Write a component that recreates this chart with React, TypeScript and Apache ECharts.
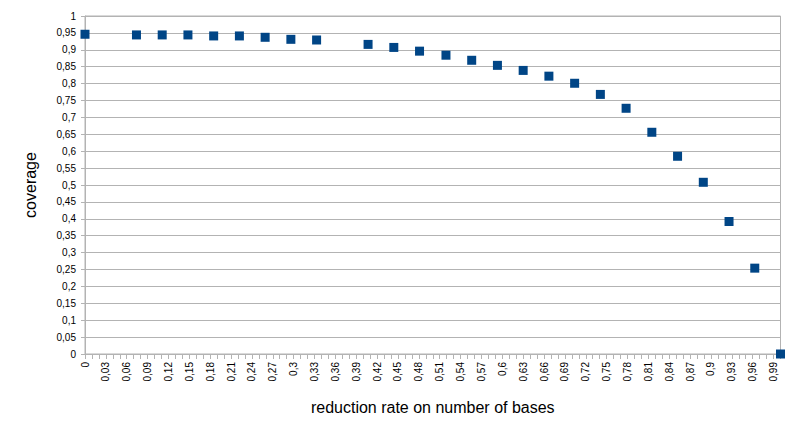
import React, { useEffect, useRef } from "react";
import * as echarts from "echarts";

const reductionRate: number[] = [
  0, 0.074, 0.111, 0.148, 0.185, 0.222, 0.259, 0.296, 0.333, 0.407, 0.444, 0.481, 0.519,
  0.556, 0.593, 0.63, 0.667, 0.704, 0.741, 0.778, 0.815, 0.852, 0.889, 0.926, 0.963, 1.0,
];
const coverage: number[] = [
  0.946, 0.944, 0.944, 0.944, 0.941, 0.941, 0.937, 0.931, 0.929, 0.916, 0.907, 0.896, 0.884,
  0.869, 0.854, 0.839, 0.822, 0.801, 0.768, 0.727, 0.656, 0.585, 0.508, 0.392, 0.254, 0,
];
const xTitle = "reduction rate on number of bases";
const yTitle = "coverage";

const fmt = (v: number) => String(Math.round(v * 100) / 100).replace(".", ",");

export default function App() {
  const ref = useRef<HTMLDivElement>(null);
  useEffect(() => {
    if (!ref.current) return;
    const chart = echarts.init(ref.current, null, { renderer: "svg" });
    const gray = "#b3b3b3";
    const font = "'Liberation Sans', Arial, sans-serif";
    chart.setOption({
      animation: false,
      backgroundColor: "#ffffff",
      textStyle: { fontFamily: font },
      grid: {
        left: 85,
        right: 15.5,
        top: 16,
        bottom: 76,
        show: true,
        borderColor: gray,
        borderWidth: 1,
      },
      xAxis: {
        type: "value",
        min: 0,
        max: 1,
        interval: 0.03,
        name: xTitle,
        nameLocation: "middle",
        nameGap: 45,
        nameTextStyle: { fontSize: 16, color: "#000", fontFamily: font },
        axisLine: { show: true, lineStyle: { color: gray } },
        axisTick: { show: true, length: 5, lineStyle: { color: gray } },
        minorTick: { show: true, splitNumber: 3, length: 5, lineStyle: { color: gray } },
        splitLine: { show: false },
        axisLabel: {
          rotate: 90,
          margin: 8,
          fontSize: 10,
          color: "#000",
          fontFamily: font,
          showMaxLabel: false,
          formatter: (v: number) => fmt(v),
        },
      },
      yAxis: {
        type: "value",
        min: 0,
        max: 1,
        interval: 0.05,
        name: yTitle,
        nameLocation: "middle",
        nameGap: 47,
        nameTextStyle: { fontSize: 16, color: "#000", fontFamily: font },
        axisLine: { show: true, lineStyle: { color: gray } },
        axisTick: { show: true, length: 4, lineStyle: { color: gray } },
        splitLine: { show: true, lineStyle: { color: gray, width: 1 } },
        axisLabel: {
          margin: 9,
          fontSize: 10,
          color: "#000",
          fontFamily: font,
          formatter: (v: number) => fmt(v),
        },
      },
      series: [
        {
          type: "scatter",
          symbol: "rect",
          symbolSize: 9,
          clip: false,
          itemStyle: { color: "#004586", opacity: 1 },
          emphasis: { disabled: true },
          data: reductionRate.map((x, i) => [x, coverage[i]]),
        },
      ],
    });
    return () => chart.dispose();
  }, []);
  return (
    <div
      ref={ref}
      style={{ position: "fixed", left: 0, top: 0, width: 796, height: 430 }}
    />
  );
}
